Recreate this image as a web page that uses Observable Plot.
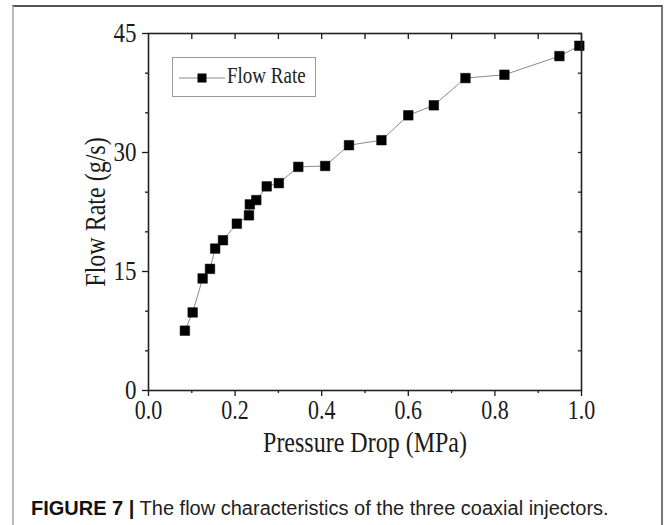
<!DOCTYPE html>
<html>
<head>
<meta charset="utf-8">
<script src="https://cdn.jsdelivr.net/npm/d3@7"></script>
<script src="https://cdn.jsdelivr.net/npm/@observablehq/plot@0.6"></script>
<style>
  html, body { margin: 0; padding: 0; background: #fff; }
  #wrap { position: relative; width: 665px; height: 525px; overflow: hidden; background: #fff; }
  #frame { position: absolute; left: 12px; top: 5px; width: 651px; height: 530px;
           border-top: 2px solid #555; border-left: 2px solid #bbb; border-right: 2px solid #777; box-sizing: border-box; }
  #chart { position: absolute; left: 0; top: 0; }
  #legend { position: absolute; left: 172px; top: 57px; width: 144px; height: 40px; box-sizing: border-box;
            border: 1px solid #9a9a9a; background: #fff; font-family: "Liberation Serif", serif; font-size: 19px; color: #222; }
  #legend svg { position: absolute; left: 0; top: 0; }
  #legend span { position: absolute; left: 54px; top: 7px; white-space: nowrap; display: inline-block; transform: scaleY(1.2); transform-origin: 0 50%; }
  #caption { position: absolute; left: 31px; top: 497px; font-family: "Liberation Sans", Arial, sans-serif; font-size: 20px; color: #222; white-space: nowrap; }
  #caption b { font-weight: bold; color: #111; }
</style>
</head>
<body>
<div id="wrap">
  <div id="frame"></div>
  <div id="chart"></div>
  <div id="legend"></div>
  <div id="caption"><b>FIGURE 7 |</b> The flow characteristics of the three coaxial injectors.</div>
</div>
<script>
// Data
const pressureDrop = [0.084, 0.102, 0.125, 0.142, 0.154, 0.172, 0.204, 0.232, 0.234, 0.249, 0.273, 0.301, 0.346, 0.408, 0.463, 0.538, 0.600, 0.659, 0.732, 0.822, 0.949, 0.995];
const flowRate     = [7.54, 9.84, 14.12, 15.33, 17.89, 18.94, 21.03, 22.08, 23.46, 24.0, 25.73, 26.14, 28.19, 28.3, 30.92, 31.55, 34.69, 35.95, 39.38, 39.80, 42.15, 43.45];
const xMajorTicks = [0, 0.2, 0.4, 0.6, 0.8, 1.0];
const xMinorTicks = [0.1, 0.3, 0.5, 0.7, 0.9];
const xTopTicks = [0.1, 0.2, 0.3, 0.4, 0.5, 0.6, 0.7, 0.8, 0.9, 1.0];
const yMajorTicks = [0, 15, 30, 45];
const yMinorTicks = [5, 10, 20, 25, 35, 40];
const yRightTicks = [5, 10, 15, 20, 25, 30, 35, 40, 45];
const seriesName = "Flow Rate";
const xLabel = "Pressure Drop (MPa)";
const yLabel = "Flow Rate (g/s)";

const data = pressureDrop.map((x, i) => ({x, y: flowRate[i]}));

const chart = Plot.plot({
  width: 665,
  height: 470,
  marginLeft: 148,
  marginRight: 84,
  marginTop: 33,
  marginBottom: 80,
  style: {fontFamily: "Liberation Serif, serif", color: "#1a1a1a", background: "transparent"},
  x: {domain: [0, 1]},
  y: {domain: [0, 45]},
  marks: [
    Plot.line(data, {x: "x", y: "y", stroke: "#8a8a8a", strokeWidth: 1}),
    Plot.dot(data, {x: "x", y: "y", symbol: "square", r: 5.4, fill: "#000", stroke: "#000", strokeWidth: 0.5}),
    // bottom axis
    Plot.axisX({ticks: xMajorTicks, tickSize: 6, tickPadding: 3, tickFormat: d3.format(".1f"), fontSize: 22,
                label: xLabel, labelAnchor: "center", labelArrow: "none", labelOffset: 61, strokeWidth: 1.3}),
    Plot.axisX({ticks: xMinorTicks, tickSize: 3, text: null, label: null, strokeWidth: 1.3}),
    // top mirrored ticks (inward)
    Plot.axisX({anchor: "top", ticks: xTopTicks, tickSize: 5, dy: 5, text: null, label: null, strokeWidth: 1.3}),
    // left axis
    Plot.axisY({ticks: yMajorTicks, tickSize: 6, tickPadding: 6, fontSize: 23,
                label: yLabel, labelAnchor: "center", labelArrow: "none", labelOffset: 64, strokeWidth: 1.3}),
    Plot.axisY({ticks: yMinorTicks, tickSize: 3, text: null, label: null, strokeWidth: 1.3}),
    // right mirrored ticks (inward)
    Plot.axisY({anchor: "right", ticks: yRightTicks, tickSize: 4, dx: -4, text: null, label: null, strokeWidth: 1.3}),
    Plot.frame({stroke: "#222", strokeWidth: 1.6})
  ]
});

// the reference's serif text is drawn slightly taller than wide: stretch it vertically on screen
const stretch = 1.22;
chart.querySelectorAll('g[aria-label="x-axis tick label"] text, g[aria-label="y-axis tick label"] text, g[aria-label="x-axis label"] text')
  .forEach(t => {
    const tr = t.getAttribute("transform") || "";
    t.setAttribute("transform", tr + ` scale(1,${stretch})`);
  });
chart.querySelectorAll('g[aria-label="x-axis label"] text, g[aria-label="y-axis label"] text')
  .forEach(t => t.setAttribute("font-size", 24));
chart.querySelectorAll('g[aria-label="y-axis label"] text')
  .forEach(t => {
    const tr = t.getAttribute("transform") || "";
    t.setAttribute("transform", tr + ` scale(1,${stretch})`);
  });
document.getElementById("chart").appendChild(chart);

// legend
const leg = document.getElementById("legend");
leg.innerHTML = `<svg width="144" height="40">
  <line x1="6" x2="52" y1="20" y2="20" stroke="#8a8a8a" stroke-width="1"></line>
  <rect x="24.5" y="15.5" width="9" height="9" fill="#000"></rect>
</svg><span>${seriesName}</span>`;
</script>
</body>
</html>
